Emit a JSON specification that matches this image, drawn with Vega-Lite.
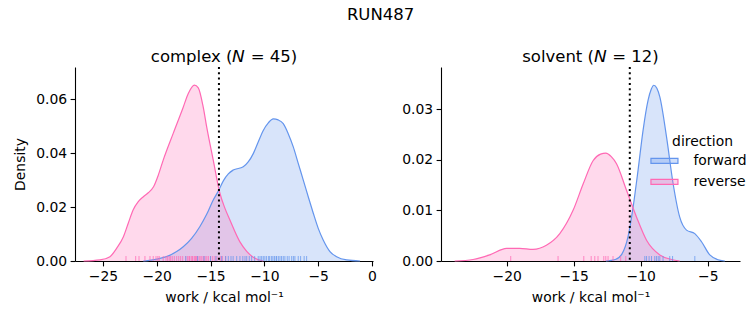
{
  "$schema": "https://vega.github.io/schema/vega-lite/v6.json",
  "background": "white",
  "padding": {"left": 13, "top": 7, "right": 5, "bottom": 5},
  "title": {"text": "RUN487", "fontSize": 16.5, "fontWeight": "normal", "font": "DejaVu Sans", "anchor": "middle", "color": "black", "offset": 25},
  "datasets": {
    "kde": [
      {"panel": "complex", "direction": "forward", "work": -21.25, "density": 0},
      {"panel": "complex", "direction": "forward", "work": -20.0, "density": 0.0007},
      {"panel": "complex", "direction": "forward", "work": -19.1, "density": 0.0016},
      {"panel": "complex", "direction": "forward", "work": -18.15, "density": 0.0035},
      {"panel": "complex", "direction": "forward", "work": -17.54, "density": 0.0053},
      {"panel": "complex", "direction": "forward", "work": -16.76, "density": 0.0084},
      {"panel": "complex", "direction": "forward", "work": -16.0, "density": 0.0127},
      {"panel": "complex", "direction": "forward", "work": -15.36, "density": 0.0173},
      {"panel": "complex", "direction": "forward", "work": -14.75, "density": 0.0226},
      {"panel": "complex", "direction": "forward", "work": -14.28, "density": 0.0259},
      {"panel": "complex", "direction": "forward", "work": -13.8, "density": 0.0298},
      {"panel": "complex", "direction": "forward", "work": -13.35, "density": 0.0323},
      {"panel": "complex", "direction": "forward", "work": -12.9, "density": 0.0337},
      {"panel": "complex", "direction": "forward", "work": -11.96, "density": 0.0349},
      {"panel": "complex", "direction": "forward", "work": -11.5, "density": 0.0367},
      {"panel": "complex", "direction": "forward", "work": -11.03, "density": 0.0398},
      {"panel": "complex", "direction": "forward", "work": -10.57, "density": 0.0441},
      {"panel": "complex", "direction": "forward", "work": -10.1, "density": 0.0484},
      {"panel": "complex", "direction": "forward", "work": -9.63, "density": 0.0512},
      {"panel": "complex", "direction": "forward", "work": -9.17, "density": 0.0527},
      {"panel": "complex", "direction": "forward", "work": -8.71, "density": 0.0523},
      {"panel": "complex", "direction": "forward", "work": -8.24, "density": 0.0509},
      {"panel": "complex", "direction": "forward", "work": -7.78, "density": 0.0472},
      {"panel": "complex", "direction": "forward", "work": -7.31, "density": 0.0423},
      {"panel": "complex", "direction": "forward", "work": -6.85, "density": 0.0362},
      {"panel": "complex", "direction": "forward", "work": -6.38, "density": 0.03},
      {"panel": "complex", "direction": "forward", "work": -5.92, "density": 0.0238},
      {"panel": "complex", "direction": "forward", "work": -5.45, "density": 0.0177},
      {"panel": "complex", "direction": "forward", "work": -4.99, "density": 0.0121},
      {"panel": "complex", "direction": "forward", "work": -4.53, "density": 0.0078},
      {"panel": "complex", "direction": "forward", "work": -3.9, "density": 0.0035},
      {"panel": "complex", "direction": "forward", "work": -3.28, "density": 0.0016},
      {"panel": "complex", "direction": "forward", "work": -2.35, "density": 0.0004},
      {"panel": "complex", "direction": "forward", "work": -1.1, "density": 0},
      {"panel": "complex", "direction": "reverse", "work": -26.8, "density": 0},
      {"panel": "complex", "direction": "reverse", "work": -25.28, "density": 0.0004},
      {"panel": "complex", "direction": "reverse", "work": -24.35, "density": 0.0016},
      {"panel": "complex", "direction": "reverse", "work": -23.73, "density": 0.0047},
      {"panel": "complex", "direction": "reverse", "work": -23.1, "density": 0.009},
      {"panel": "complex", "direction": "reverse", "work": -22.65, "density": 0.014},
      {"panel": "complex", "direction": "reverse", "work": -22.2, "density": 0.0189},
      {"panel": "complex", "direction": "reverse", "work": -21.72, "density": 0.022},
      {"panel": "complex", "direction": "reverse", "work": -21.25, "density": 0.0238},
      {"panel": "complex", "direction": "reverse", "work": -20.79, "density": 0.0253},
      {"panel": "complex", "direction": "reverse", "work": -20.3, "density": 0.0275},
      {"panel": "complex", "direction": "reverse", "work": -19.86, "density": 0.0318},
      {"panel": "complex", "direction": "reverse", "work": -19.4, "density": 0.0374},
      {"panel": "complex", "direction": "reverse", "work": -18.47, "density": 0.0473},
      {"panel": "complex", "direction": "reverse", "work": -17.54, "density": 0.057},
      {"panel": "complex", "direction": "reverse", "work": -17.07, "density": 0.0621},
      {"panel": "complex", "direction": "reverse", "work": -16.5, "density": 0.0652},
      {"panel": "complex", "direction": "reverse", "work": -16.14, "density": 0.0642},
      {"panel": "complex", "direction": "reverse", "work": -15.68, "density": 0.057},
      {"panel": "complex", "direction": "reverse", "work": -15.36, "density": 0.0497},
      {"panel": "complex", "direction": "reverse", "work": -14.75, "density": 0.0374},
      {"panel": "complex", "direction": "reverse", "work": -14.13, "density": 0.0251},
      {"panel": "complex", "direction": "reverse", "work": -13.66, "density": 0.0195},
      {"panel": "complex", "direction": "reverse", "work": -13.2, "density": 0.0152},
      {"panel": "complex", "direction": "reverse", "work": -12.27, "density": 0.0071},
      {"panel": "complex", "direction": "reverse", "work": -11.64, "density": 0.0036},
      {"panel": "complex", "direction": "reverse", "work": -11.03, "density": 0.0014},
      {"panel": "complex", "direction": "reverse", "work": -10.1, "density": 0},
      {"panel": "solvent", "direction": "forward", "work": -12.6, "density": 0},
      {"panel": "solvent", "direction": "forward", "work": -11.9, "density": 0.0003},
      {"panel": "solvent", "direction": "forward", "work": -11.4, "density": 0.0014},
      {"panel": "solvent", "direction": "forward", "work": -10.95, "density": 0.0048},
      {"panel": "solvent", "direction": "forward", "work": -10.57, "density": 0.0107},
      {"panel": "solvent", "direction": "forward", "work": -10.2, "density": 0.018},
      {"panel": "solvent", "direction": "forward", "work": -9.83, "density": 0.0258},
      {"panel": "solvent", "direction": "forward", "work": -9.45, "density": 0.0318},
      {"panel": "solvent", "direction": "forward", "work": -9.22, "density": 0.0339},
      {"panel": "solvent", "direction": "forward", "work": -9.03, "density": 0.0347},
      {"panel": "solvent", "direction": "forward", "work": -8.8, "density": 0.0341},
      {"panel": "solvent", "direction": "forward", "work": -8.58, "density": 0.0324},
      {"panel": "solvent", "direction": "forward", "work": -8.08, "density": 0.0245},
      {"panel": "solvent", "direction": "forward", "work": -7.59, "density": 0.0153},
      {"panel": "solvent", "direction": "forward", "work": -7.1, "density": 0.0087},
      {"panel": "solvent", "direction": "forward", "work": -6.59, "density": 0.0061},
      {"panel": "solvent", "direction": "forward", "work": -5.97, "density": 0.0054},
      {"panel": "solvent", "direction": "forward", "work": -5.47, "density": 0.0038},
      {"panel": "solvent", "direction": "forward", "work": -4.85, "density": 0.0012},
      {"panel": "solvent", "direction": "forward", "work": -4.3, "density": 0.0003},
      {"panel": "solvent", "direction": "forward", "work": -3.73, "density": 0},
      {"panel": "solvent", "direction": "reverse", "work": -23.88, "density": 0},
      {"panel": "solvent", "direction": "reverse", "work": -22.51, "density": 0.0003},
      {"panel": "solvent", "direction": "reverse", "work": -21.27, "density": 0.0012},
      {"panel": "solvent", "direction": "reverse", "work": -20.0, "density": 0.0025},
      {"panel": "solvent", "direction": "reverse", "work": -19.03, "density": 0.0025},
      {"panel": "solvent", "direction": "reverse", "work": -18.04, "density": 0.0023},
      {"panel": "solvent", "direction": "reverse", "work": -17.04, "density": 0.0031},
      {"panel": "solvent", "direction": "reverse", "work": -16.04, "density": 0.0054},
      {"panel": "solvent", "direction": "reverse", "work": -15.05, "density": 0.01},
      {"panel": "solvent", "direction": "reverse", "work": -14.3, "density": 0.0152},
      {"panel": "solvent", "direction": "reverse", "work": -13.56, "density": 0.0198},
      {"panel": "solvent", "direction": "reverse", "work": -13.0, "density": 0.0211},
      {"panel": "solvent", "direction": "reverse", "work": -12.61, "density": 0.0213},
      {"panel": "solvent", "direction": "reverse", "work": -12.2, "density": 0.0206},
      {"panel": "solvent", "direction": "reverse", "work": -11.81, "density": 0.0192},
      {"panel": "solvent", "direction": "reverse", "work": -11.07, "density": 0.014},
      {"panel": "solvent", "direction": "reverse", "work": -10.32, "density": 0.0087},
      {"panel": "solvent", "direction": "reverse", "work": -9.57, "density": 0.0041},
      {"panel": "solvent", "direction": "reverse", "work": -8.58, "density": 0.0012},
      {"panel": "solvent", "direction": "reverse", "work": -7.7, "density": 0.0003},
      {"panel": "solvent", "direction": "reverse", "work": -7.1, "density": 0}
    ],
    "rug": [
      {"panel": "complex", "direction": "reverse", "work": -22.86},
      {"panel": "complex", "direction": "reverse", "work": -21.96},
      {"panel": "complex", "direction": "reverse", "work": -21.65},
      {"panel": "complex", "direction": "reverse", "work": -21.1},
      {"panel": "complex", "direction": "reverse", "work": -20.63},
      {"panel": "complex", "direction": "reverse", "work": -20.33},
      {"panel": "complex", "direction": "reverse", "work": -20.07},
      {"panel": "complex", "direction": "reverse", "work": -19.9},
      {"panel": "complex", "direction": "reverse", "work": -19.77},
      {"panel": "complex", "direction": "reverse", "work": -19.4},
      {"panel": "complex", "direction": "reverse", "work": -19.14},
      {"panel": "complex", "direction": "reverse", "work": -18.99},
      {"panel": "complex", "direction": "reverse", "work": -18.84},
      {"panel": "complex", "direction": "reverse", "work": -18.71},
      {"panel": "complex", "direction": "reverse", "work": -18.56},
      {"panel": "complex", "direction": "reverse", "work": -18.37},
      {"panel": "complex", "direction": "reverse", "work": -18.15},
      {"panel": "complex", "direction": "reverse", "work": -17.96},
      {"panel": "complex", "direction": "reverse", "work": -17.78},
      {"panel": "complex", "direction": "reverse", "work": -17.59},
      {"panel": "complex", "direction": "reverse", "work": -17.31},
      {"panel": "complex", "direction": "reverse", "work": -17.13},
      {"panel": "complex", "direction": "reverse", "work": -17.0},
      {"panel": "complex", "direction": "reverse", "work": -16.95},
      {"panel": "complex", "direction": "reverse", "work": -16.8},
      {"panel": "complex", "direction": "reverse", "work": -16.7},
      {"panel": "complex", "direction": "reverse", "work": -16.65},
      {"panel": "complex", "direction": "reverse", "work": -16.5},
      {"panel": "complex", "direction": "reverse", "work": -16.4},
      {"panel": "complex", "direction": "reverse", "work": -16.3},
      {"panel": "complex", "direction": "reverse", "work": -16.2},
      {"panel": "complex", "direction": "reverse", "work": -16.05},
      {"panel": "complex", "direction": "reverse", "work": -15.9},
      {"panel": "complex", "direction": "reverse", "work": -15.8},
      {"panel": "complex", "direction": "reverse", "work": -15.65},
      {"panel": "complex", "direction": "reverse", "work": -15.5},
      {"panel": "complex", "direction": "reverse", "work": -15.35},
      {"panel": "complex", "direction": "reverse", "work": -15.2},
      {"panel": "complex", "direction": "reverse", "work": -15.0},
      {"panel": "complex", "direction": "reverse", "work": -14.8},
      {"panel": "complex", "direction": "reverse", "work": -14.6},
      {"panel": "complex", "direction": "reverse", "work": -14.4},
      {"panel": "complex", "direction": "reverse", "work": -14.1},
      {"panel": "complex", "direction": "reverse", "work": -13.9},
      {"panel": "complex", "direction": "reverse", "work": -13.6},
      {"panel": "complex", "direction": "forward", "work": -17.3},
      {"panel": "complex", "direction": "forward", "work": -16.2},
      {"panel": "complex", "direction": "forward", "work": -15.6},
      {"panel": "complex", "direction": "forward", "work": -15.0},
      {"panel": "complex", "direction": "forward", "work": -14.5},
      {"panel": "complex", "direction": "forward", "work": -13.97},
      {"panel": "complex", "direction": "forward", "work": -13.6},
      {"panel": "complex", "direction": "forward", "work": -13.35},
      {"panel": "complex", "direction": "forward", "work": -13.1},
      {"panel": "complex", "direction": "forward", "work": -12.9},
      {"panel": "complex", "direction": "forward", "work": -12.57},
      {"panel": "complex", "direction": "forward", "work": -12.27},
      {"panel": "complex", "direction": "forward", "work": -12.0},
      {"panel": "complex", "direction": "forward", "work": -11.8},
      {"panel": "complex", "direction": "forward", "work": -11.64},
      {"panel": "complex", "direction": "forward", "work": -11.4},
      {"panel": "complex", "direction": "forward", "work": -11.18},
      {"panel": "complex", "direction": "forward", "work": -10.9},
      {"panel": "complex", "direction": "forward", "work": -10.57},
      {"panel": "complex", "direction": "forward", "work": -10.4},
      {"panel": "complex", "direction": "forward", "work": -10.25},
      {"panel": "complex", "direction": "forward", "work": -10.1},
      {"panel": "complex", "direction": "forward", "work": -9.95},
      {"panel": "complex", "direction": "forward", "work": -9.79},
      {"panel": "complex", "direction": "forward", "work": -9.6},
      {"panel": "complex", "direction": "forward", "work": -9.5},
      {"panel": "complex", "direction": "forward", "work": -9.32},
      {"panel": "complex", "direction": "forward", "work": -9.2},
      {"panel": "complex", "direction": "forward", "work": -9.05},
      {"panel": "complex", "direction": "forward", "work": -8.9},
      {"panel": "complex", "direction": "forward", "work": -8.86},
      {"panel": "complex", "direction": "forward", "work": -8.7},
      {"panel": "complex", "direction": "forward", "work": -8.55},
      {"panel": "complex", "direction": "forward", "work": -8.4},
      {"panel": "complex", "direction": "forward", "work": -8.24},
      {"panel": "complex", "direction": "forward", "work": -8.09},
      {"panel": "complex", "direction": "forward", "work": -7.87},
      {"panel": "complex", "direction": "forward", "work": -7.7},
      {"panel": "complex", "direction": "forward", "work": -7.46},
      {"panel": "complex", "direction": "forward", "work": -7.3},
      {"panel": "complex", "direction": "forward", "work": -7.16},
      {"panel": "complex", "direction": "forward", "work": -6.85},
      {"panel": "complex", "direction": "forward", "work": -6.63},
      {"panel": "complex", "direction": "forward", "work": -6.3},
      {"panel": "complex", "direction": "forward", "work": -6.07},
      {"panel": "solvent", "direction": "reverse", "work": -19.7},
      {"panel": "solvent", "direction": "reverse", "work": -16.17},
      {"panel": "solvent", "direction": "reverse", "work": -14.25},
      {"panel": "solvent", "direction": "reverse", "work": -13.7},
      {"panel": "solvent", "direction": "reverse", "work": -13.43},
      {"panel": "solvent", "direction": "reverse", "work": -13.19},
      {"panel": "solvent", "direction": "reverse", "work": -12.76},
      {"panel": "solvent", "direction": "reverse", "work": -12.61},
      {"panel": "solvent", "direction": "reverse", "work": -12.44},
      {"panel": "solvent", "direction": "reverse", "work": -12.07},
      {"panel": "solvent", "direction": "reverse", "work": -11.5},
      {"panel": "solvent", "direction": "reverse", "work": -11.12},
      {"panel": "solvent", "direction": "forward", "work": -9.7},
      {"panel": "solvent", "direction": "forward", "work": -9.57},
      {"panel": "solvent", "direction": "forward", "work": -9.38},
      {"panel": "solvent", "direction": "forward", "work": -9.2},
      {"panel": "solvent", "direction": "forward", "work": -8.96},
      {"panel": "solvent", "direction": "forward", "work": -8.83},
      {"panel": "solvent", "direction": "forward", "work": -8.7},
      {"panel": "solvent", "direction": "forward", "work": -8.58},
      {"panel": "solvent", "direction": "forward", "work": -8.34},
      {"panel": "solvent", "direction": "forward", "work": -7.84},
      {"panel": "solvent", "direction": "forward", "work": -7.63},
      {"panel": "solvent", "direction": "forward", "work": -5.97}
    ],
    "ref": [
      {"panel": "complex", "work": -14.22},
      {"panel": "solvent", "work": -10.82}
    ]
  },
  "hconcat": [
    {
      "width": 298,
      "height": 194,
      "title": {"text": "complex (𝘕 = 45)"},
      "layer": [
        {
          "data": {"name": "kde"},
          "transform": [{"filter": "datum.panel === 'complex'"}],
          "mark": {"type": "area", "fillOpacity": 0.25, "interpolate": "monotone", "line": {"strokeWidth": 1.2}},
          "encoding": {
            "x": {"field": "work", "type": "quantitative", "scale": {"domain": [-27.6, 0.1], "nice": false, "zero": false},
                  "axis": {"title": "work / kcal mol⁻¹", "values": [-25, -20, -15, -10, -5, 0]}},
            "y": {"field": "density", "type": "quantitative", "stack": null, "scale": {"domain": [0, 0.0719], "nice": false},
                  "axis": {"title": "Density", "values": [0, 0.02, 0.04, 0.06], "format": ".2f"}},
            "color": {"field": "direction", "type": "nominal", "scale": {"domain": ["forward", "reverse"], "range": ["#6495ED", "#FF69B4"]},
                      "legend": {"encode": {"symbols": {"update": {"fillOpacity": {"value": 0.3}, "stroke": {"scale": "color", "field": "value"}, "strokeWidth": {"value": 1.2}}}}}}
          }
        },
        {
          "data": {"name": "rug"},
          "transform": [{"filter": "datum.panel === 'complex'"}],
          "mark": {"type": "tick", "orient": "vertical", "size": 5, "thickness": 1, "yOffset": -2.5, "opacity": 0.75},
          "encoding": {
            "x": {"field": "work", "type": "quantitative"},
            "y": {"datum": 0, "type": "quantitative"},
            "color": {"field": "direction", "type": "nominal"}
          }
        },
        {
          "data": {"name": "ref"},
          "transform": [{"filter": "datum.panel === 'complex'"}],
          "mark": {"type": "rule", "color": "black", "strokeWidth": 2, "strokeDash": [2, 3.3]},
          "encoding": {"x": {"field": "work", "type": "quantitative"}}
        }
      ]
    },
    {
      "width": 299,
      "height": 194,
      "title": {"text": "solvent (𝘕 = 12)"},
      "layer": [
        {
          "data": {"name": "kde"},
          "transform": [{"filter": "datum.panel === 'solvent'"}],
          "mark": {"type": "area", "fillOpacity": 0.25, "interpolate": "monotone", "line": {"strokeWidth": 1.2}},
          "encoding": {
            "x": {"field": "work", "type": "quantitative", "scale": {"domain": [-24.9, -2.6], "nice": false, "zero": false},
                  "axis": {"title": "work / kcal mol⁻¹", "values": [-20, -15, -10, -5]}},
            "y": {"field": "density", "type": "quantitative", "stack": null, "scale": {"domain": [0, 0.0383], "nice": false},
                  "axis": {"title": null, "values": [0, 0.01, 0.02, 0.03], "format": ".2f"}},
            "color": {"field": "direction", "type": "nominal"}
          }
        },
        {
          "data": {"name": "rug"},
          "transform": [{"filter": "datum.panel === 'solvent'"}],
          "mark": {"type": "tick", "orient": "vertical", "size": 5, "thickness": 1, "yOffset": -2.5, "opacity": 0.75},
          "encoding": {
            "x": {"field": "work", "type": "quantitative"},
            "y": {"datum": 0, "type": "quantitative"},
            "color": {"field": "direction", "type": "nominal"}
          }
        },
        {
          "data": {"name": "ref"},
          "transform": [{"filter": "datum.panel === 'solvent'"}],
          "mark": {"type": "rule", "color": "black", "strokeWidth": 2, "strokeDash": [2, 3.3]},
          "encoding": {"x": {"field": "work", "type": "quantitative"}}
        }
      ]
    }
  ],
  "spacing": 68,
  "bounds": "flush",
  "config": {
    "font": "DejaVu Sans",
    "view": {"stroke": null},
    "title": {"fontSize": 16.5, "fontWeight": "normal", "font": "DejaVu Sans", "color": "black", "offset": 1},
    "axis": {
      "grid": false,
      "domainColor": "black",
      "domainWidth": 1.1,
      "tickColor": "black",
      "tickWidth": 1.1,
      "tickSize": 4.9,
      "labelPadding": 3.5,
      "labelFont": "DejaVu Sans",
      "labelFontSize": 13.9,
      "labelColor": "black",
      "titleFont": "DejaVu Sans",
      "titleFontSize": 13.9,
      "titleFontWeight": "normal",
      "titleColor": "black",
      "titlePadding": 5
    },
    "axisX": {"titlePadding": 7},
    "axisY": {"titlePadding": 8},
    "legend": {
      "orient": "none",
      "legendX": 582.5,
      "legendY": 68,
      "titleFont": "DejaVu Sans",
      "titleFontSize": 13.9,
      "titleFontWeight": "normal",
      "titleColor": "black",
      "titleAnchor": "middle",
      "labelFont": "DejaVu Sans",
      "labelFontSize": 13.9,
      "labelColor": "black",
      "symbolType": "M-2.7,-0.5H2.7V0.5H-2.7Z",
      "symbolSize": 100,
      "symbolStrokeWidth": 1.2,
      "labelOffset": 22,
      "rowPadding": 6
    }
  }
}
